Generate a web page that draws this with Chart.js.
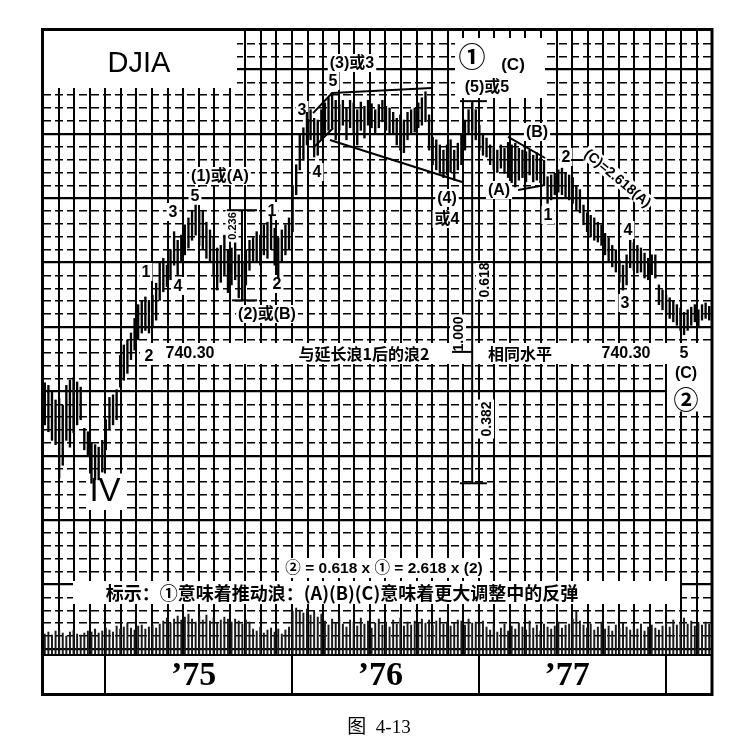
<!DOCTYPE html>
<html>
<head>
<meta charset="utf-8">
<script src="https://cdn.jsdelivr.net/npm/chart.js@4.4.1/dist/chart.umd.min.js"></script>
<style>
  html, body { margin: 0; padding: 0; background: #fff; }
</style>
</head>
<body>
<canvas id="chart-djia" width="749" height="750"></canvas>
<script>
// weekly DJIA bars, Sep 1974 .. Mar 1978
const weekHigh = [
  705, 702, 694, 685, 687, 679, 702, 708, 711, 706,
  700, 652, 648, 635, 633, 630, 638, 662, 688, 691,
  697, 737, 749, 755, 763, 780, 796, 801, 805, 801,
  807, 821, 846, 850, 842, 860, 881, 871, 877, 889,
  897, 906, 912, 904, 906, 892, 883, 874, 862, 865,
  877, 860, 862, 868, 854, 846, 860, 871, 874, 881,
  877, 889, 892, 900, 885, 874, 883, 889, 897, 935,
  959, 994, 1002, 1020, 1023, 1013, 1011, 1023, 1031, 1037,
  1043, 1034, 1029, 1034, 1025, 1034, 1031, 1023, 1032, 1027,
  1034, 1030, 1023, 1029, 1034, 1027, 1025, 1020, 1013, 1017,
  1011, 1020, 1023, 1025, 1031, 1037, 1044, 1017, 991, 988,
  982, 976, 982, 988, 976, 984, 994, 1011, 1023, 1031,
  1023, 1005, 994, 990, 982, 978, 976, 982, 978, 985,
  982, 984, 978, 976, 974, 976, 970, 973, 967, 964,
  945, 947, 949, 953, 955, 950, 947, 944, 935, 930,
  912, 903, 900, 897, 892, 889, 879, 874, 865, 860,
  848, 842, 854, 871, 868, 865, 862, 856, 850, 854,
  854, 819, 813, 807, 804, 801, 796, 792, 787, 790,
  793, 796, 790, 796, 798, 794
];
const weekLow = [
  656, 648, 638, 633, 594, 609, 638, 630, 647, 656,
  662, 627, 621, 588, 592, 592, 601, 627, 650, 656,
  662, 700, 708, 716, 732, 743, 755, 763, 766, 763,
  769, 778, 801, 811, 817, 825, 842, 831, 846, 854,
  862, 871, 877, 865, 860, 850, 846, 831, 813, 822,
  831, 810, 819, 825, 804, 801, 819, 836, 846, 846,
  842, 854, 850, 860, 842, 827, 846, 854, 860, 881,
  924, 953, 964, 982, 988, 968, 970, 988, 994, 999,
  1002, 988, 999, 1005, 988, 1002, 996, 982, 999, 990,
  1005, 1002, 996, 1002, 1009, 999, 996, 994, 982, 976,
  973, 988, 994, 997, 1002, 1005, 1009, 976, 959, 953,
  949, 944, 947, 950, 941, 953, 959, 976, 994, 999,
  988, 976, 970, 968, 959, 953, 950, 955, 949, 944,
  938, 933, 941, 944, 939, 947, 939, 941, 938, 935,
  914, 918, 924, 927, 924, 920, 918, 914, 906, 903,
  889, 881, 875, 871, 869, 865, 854, 846, 840, 834,
  822, 813, 819, 839, 836, 833, 834, 827, 825, 831,
  827, 796, 790, 784, 780, 776, 772, 766, 761, 766,
  772, 776, 769, 778, 780, 778
];
// weekly volume (millions of shares)
const weekVolume = [
  84, 92, 80, 96, 100, 88, 76, 92, 100, 84, 80, 88, 96, 92, 104, 88,
  96, 108, 100, 92, 116, 104, 112, 128, 108, 100, 116, 120, 104, 112, 120, 108, 124,
  136, 148, 128, 144, 156, 140, 152, 164, 144, 132, 156, 140, 160, 136, 148, 128, 140, 152, 144, 132, 144, 136, 124, 140, 132,
  104, 96, 112, 88, 100, 108, 92, 104, 84, 100, 112,
  176, 188, 180, 168, 184, 160, 176, 152, 164,
  136, 120, 144, 128, 152, 124, 112, 140, 132, 116, 148, 124, 136, 108, 128, 144, 120, 132, 112, 140, 124, 148, 116, 132, 120, 136, 128, 144,
  128, 140, 120, 136, 148, 124, 132, 116, 128, 140, 136, 120, 144, 128, 132, 124, 136,
  112, 100, 120, 92, 108, 124, 96, 116, 104, 128, 112, 100, 136, 108, 120, 96, 124, 112, 104, 116, 132, 108, 120, 124,
  144, 176, 136,
  120, 108, 124, 100, 112, 132, 104, 116, 96, 120, 108, 128, 112, 100, 116, 104, 124, 96, 112, 120, 108, 100,
  116, 128, 112, 140, 120, 132, 148, 124, 136, 116, 128, 120, 132, 124
];
const yearLabels = ['’75', '’76', '’77'];
const yearStartMonth = [4, 16, 28, 40];   // months after Sep 1974
const monthCount = 43;
const weeksPerMonth = 52 / 12;

// annotation lines in data units [week, price, week, price]
const markLines = [
  [75.2, 1019, 80.5, 1042.5],
  [80.5, 1042.5, 108.3, 1048.3],
  [75.2, 978.5, 80.8, 1001.8],
  [79.9, 987.8, 116.7, 938.9],
  [129.5, 991.3, 139.8, 966.8],
  [132.3, 929.5, 139.8, 935.4],
  [119.5, 1033, 119.5, 588],
  [116.1, 1033, 123.6, 1033],
  [116.1, 588, 123.6, 588],
  [119.5, 845.7, 128.7, 845.7],
  [113.9, 741, 119.5, 741],
  [55.4, 906, 55.4, 801],
  [51.2, 906, 59.6, 906],
  [52.6, 801, 59.6, 801],
  [147.0, 964.5, 150.4, 964.5]
];

// blank (erased) areas of the grid, pixels
const blanks = [
  [44, 31, 193, 57],
  [455, 38, 90, 60],
  [140, 343, 532, 21],
  [667, 343, 44, 67],
  [86, 474, 40, 36],
  [280, 558, 210, 20],
  [73, 581, 607, 23]
];

const SANS = '"Liberation Sans", "Noto Sans CJK SC", sans-serif';
const CJK = '"Noto Sans CJK SC", "Liberation Sans", sans-serif';
const texts = [
  { t: 'DJIA', x: 139, y: 63, f: '29px ' + SANS },
  { t: '(3)或3', x: 352, y: 63, f: 'bold 16px ' + SANS },
  { t: '5', x: 333, y: 81, f: 'bold 16px ' + SANS },
  { t: '3', x: 302, y: 110, f: 'bold 16px ' + SANS },
  { t: '4', x: 317, y: 172, f: 'bold 16px ' + SANS },
  { t: '①', x: 472, y: 56, f: 'bold 27px ' + CJK },
  { t: '(C)', x: 513, y: 64, f: 'bold 17px ' + SANS },
  { t: '(5)或5', x: 487, y: 87, f: 'bold 16px ' + SANS },
  { t: '(B)', x: 537, y: 132, f: 'bold 16px ' + SANS },
  { t: '(A)', x: 499, y: 190, f: 'bold 16px ' + SANS },
  { t: '1', x: 548, y: 215, f: 'bold 16px ' + SANS },
  { t: '2', x: 566, y: 157, f: 'bold 16px ' + SANS },
  { t: '(C)=2.618(A)', x: 618, y: 178, f: 'bold 14px ' + SANS, r: 40 },
  { t: '4', x: 628, y: 230, f: 'bold 16px ' + SANS },
  { t: '3', x: 625, y: 303, f: 'bold 16px ' + SANS },
  { t: '(4)', x: 447, y: 198, f: 'bold 16px ' + SANS },
  { t: '或4', x: 447, y: 219, f: 'bold 16px ' + SANS },
  { t: '(1)或(A)', x: 220, y: 176, f: 'bold 16px ' + SANS },
  { t: '5', x: 195, y: 196, f: 'bold 16px ' + SANS },
  { t: '3', x: 173, y: 212, f: 'bold 16px ' + SANS },
  { t: '1', x: 146, y: 272, f: 'bold 16px ' + SANS },
  { t: '4', x: 178, y: 286, f: 'bold 16px ' + SANS },
  { t: '1', x: 272, y: 211, f: 'bold 16px ' + SANS },
  { t: '2', x: 277, y: 284, f: 'bold 16px ' + SANS },
  { t: '(2)或(B)', x: 267, y: 314, f: 'bold 16px ' + SANS },
  { t: '0.236', x: 232, y: 226, f: 'bold 11px ' + SANS, r: -90 },
  { t: '2', x: 149, y: 356, f: 'bold 16px ' + SANS },
  { t: '740.30', x: 190, y: 353, f: 'bold 16px ' + SANS },
  { t: '与延长浪1后的浪2', x: 364, y: 353, f: 'bold 16px ' + CJK },
  { t: '相同水平', x: 520, y: 353, f: 'bold 16px ' + CJK },
  { t: '740.30', x: 626, y: 353, f: 'bold 16px ' + SANS },
  { t: '5', x: 684, y: 353, f: 'bold 16px ' + SANS },
  { t: '(C)', x: 686, y: 373, f: 'bold 16px ' + SANS },
  { t: '②', x: 686, y: 398, f: 'bold 25px ' + CJK },
  { t: '0.618', x: 484, y: 280, f: 'bold 14px ' + SANS, r: -90 },
  { t: '1.000', x: 458, y: 334, f: 'bold 14px ' + SANS, r: -90 },
  { t: '0.382', x: 486, y: 419, f: 'bold 14px ' + SANS, r: -90 },
  { t: 'IV', x: 105, y: 491, f: '33px ' + SANS },
  { t: '② = 0.618 x ① = 2.618 x (2)', x: 384, y: 568, f: 'bold 15.5px ' + SANS },
  { t: '标示：①意味着推动浪：(A)(B)(C)意味着更大调整中的反弹', x: 342, y: 592, f: 'bold 18px ' + CJK }
];

const isMajor = v => Math.abs(((v - 470) % 75 + 75) % 75) < 0.01;

const n = Math.min(weekHigh.length, weekLow.length, weekVolume.length);
const barData = [];
const volData = [];
for (let i = 0; i < n; i++) {
  barData.push({ x: i + 0.5, y: [weekLow[i], weekHigh[i]] });
  volData.push({ x: i + 0.5, y: weekVolume[i] });
}

const sketchPlugin = {
  id: 'sketch',
  beforeDatasetsDraw(chart) {
    const ctx = chart.ctx;
    ctx.save();
    ctx.fillStyle = '#fff';
    blanks.forEach(b => ctx.fillRect(b[0], b[1], b[2], b[3]));
    texts.forEach(o => {
      ctx.save();
      ctx.font = o.f;
      ctx.textAlign = 'center';
      ctx.textBaseline = 'middle';
      ctx.translate(o.x, o.y);
      if (o.r) ctx.rotate(o.r * Math.PI / 180);
      const w = ctx.measureText(o.t).width;
      const h = parseFloat(o.f.match(/([\d.]+)px/)[1]);
      ctx.fillStyle = '#fff';
      ctx.fillRect(-w / 2 - 2, -h / 2 - 1, w + 4, h + 2);
      ctx.fillStyle = '#000';
      ctx.fillText(o.t, 0, 1);
      ctx.restore();
    });
    ctx.restore();
  },
  afterDatasetsDraw(chart) {
    const ctx = chart.ctx;
    const xs = chart.scales.x, ys = chart.scales.y;
    ctx.save();
    ctx.strokeStyle = '#000';
    ctx.lineWidth = 2;
    markLines.forEach(l => {
      ctx.beginPath();
      ctx.moveTo(xs.getPixelForValue(l[0]), ys.getPixelForValue(l[1]));
      ctx.lineTo(xs.getPixelForValue(l[2]), ys.getPixelForValue(l[3]));
      ctx.stroke();
    });
    ctx.restore();
  },
  afterDraw(chart) {
    const ctx = chart.ctx;
    const xs = chart.scales.x;
    const area = chart.chartArea;
    const bandBottom = 694;
    ctx.save();
    ctx.strokeStyle = '#000';
    ctx.lineWidth = 2;
    ctx.beginPath();
    ctx.moveTo(area.left, area.bottom);
    ctx.lineTo(area.right, area.bottom);
    ctx.stroke();
    yearStartMonth.forEach(m => {
      const px = Math.round(xs.getPixelForValue(m * weeksPerMonth));
      ctx.beginPath();
      ctx.moveTo(px, area.bottom);
      ctx.lineTo(px, bandBottom);
      ctx.stroke();
    });
    ctx.fillStyle = '#000';
    ctx.font = 'bold 34px "Liberation Serif", serif';
    ctx.textAlign = 'center';
    ctx.textBaseline = 'middle';
    yearLabels.forEach((lab, i) => {
      const a = xs.getPixelForValue(yearStartMonth[i] * weeksPerMonth);
      const b = xs.getPixelForValue(yearStartMonth[i + 1] * weeksPerMonth);
      ctx.fillText(lab, (a + b) / 2 - 5, 676);
    });
    // outer frame
    ctx.lineWidth = 3;
    ctx.strokeRect(area.left - 0.5, area.top - 1.5, area.right - area.left + 1.5, bandBottom - area.top + 2);
    // caption
    ctx.font = '19px "Liberation Serif", "Noto Sans CJK SC", serif';
    ctx.fillText('图  4-13', 379, 728);
    ctx.restore();
  }
};

const ctx = document.getElementById('chart-djia');
new Chart(ctx, {
  type: 'bar',
  data: {
    datasets: [
      {
        label: 'DJIA',
        data: barData,
        backgroundColor: '#000',
        barThickness: 1.7,
        grouped: false,
        yAxisID: 'y'
      },
      {
        label: 'Volume',
        data: volData,
        backgroundColor: '#1a1a1a',
        barThickness: 1.3,
        grouped: false,
        yAxisID: 'yv'
      }
    ]
  },
  options: {
    responsive: false,
    animation: false,
    events: [],
    devicePixelRatio: 1,
    layout: { padding: { left: 43, right: 38, top: 31, bottom: 95 } },
    scales: {
      x: {
        type: 'linear',
        min: 0,
        max: 186,
        offset: false,
        ticks: { display: false },
        border: { display: false },
        grid: { offset: false, drawTicks: false, color: '#000', lineWidth: 2 },
        afterBuildTicks: s => {
          const t = [];
          for (let m = 1; m < monthCount; m++) t.push({ value: m * weeksPerMonth });
          s.ticks = t;
        }
      },
      y: {
        type: 'linear',
        min: 388,
        max: 1114.7,
        ticks: { display: false },
        border: { display: false, dash: c => (c.tick && isMajor(c.tick.value)) ? [] : [8, 4] },
        grid: {
          drawTicks: false,
          color: '#000',
          lineWidth: c => (c.tick && isMajor(c.tick.value)) ? 2.2 : 1.5
        },
        afterBuildTicks: s => {
          const t = [];
          for (let v = 395; v <= 1100; v += 15) t.push({ value: v });
          s.ticks = t;
        }
      },
      yv: {
        type: 'linear',
        display: false,
        min: 0,
        max: 2500
      }
    },
    plugins: {
      legend: { display: false },
      tooltip: { enabled: false }
    }
  },
  plugins: [sketchPlugin]
});
</script>
</body>
</html>
